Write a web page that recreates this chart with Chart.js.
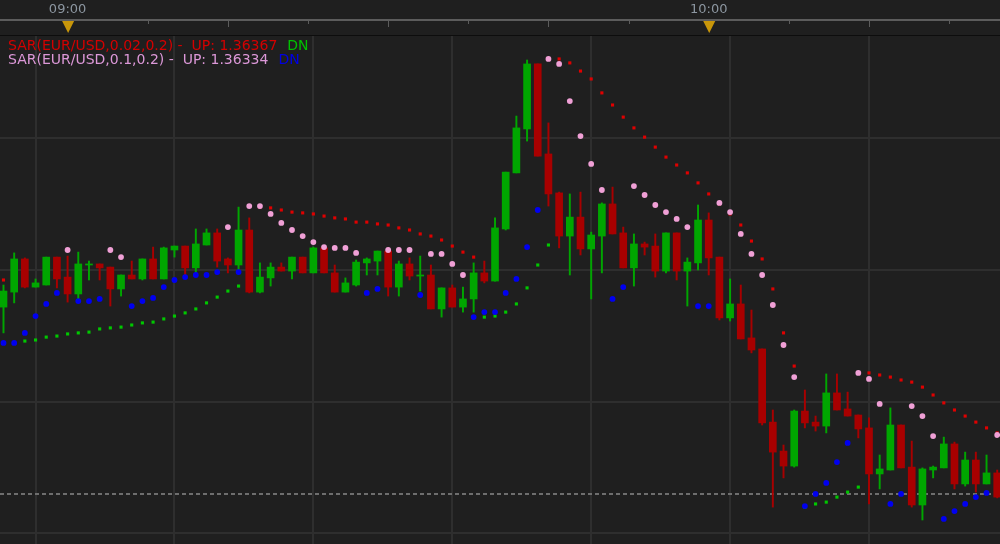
<!DOCTYPE html>
<html>
<head>
<meta charset="utf-8">
<script src="https://cdn.jsdelivr.net/npm/chart.js@4.4.0/dist/chart.umd.min.js"></script>
<style>
  html, body { margin: 0; padding: 0; background: #1f1f1f; }
  #wrap { position: relative; width: 1000px; height: 544px; }
  #legend {
    position: absolute; left: 8px; top: 38px;
    font-family: 'DejaVu Sans', sans-serif; font-size: 14px; line-height: 14px;
    white-space: nowrap; pointer-events: none;
  }
  #legend span { white-space: pre; }
  .up1 { color: #d40000; }
  .up2 { color: #dc98d8; }
  .dn1 { color: #00c000; margin-left: 10px; }
  .dn2 { color: #0000e6; margin-left: 10px; }
</style>
</head>
<body>
<div id="wrap">
  <canvas id="chart"></canvas>
  <div id="legend"><div><span class="up1">SAR(EUR/USD,0.02,0.2) -  UP: 1.36367</span><span class="dn1">DN</span></div><div><span class="up2">SAR(EUR/USD,0.1,0.2) -  UP: 1.36334</span><span class="dn2">DN</span></div></div>
</div>
<script>
// 1 minute EUR/USD candles
const times = [
  '08:54','08:55','08:56','08:57','08:58','08:59',
  '09:00','09:01','09:02','09:03','09:04','09:05','09:06','09:07','09:08','09:09',
  '09:10','09:11','09:12','09:13','09:14','09:15','09:16','09:17','09:18','09:19',
  '09:20','09:21','09:22','09:23','09:24','09:25','09:26','09:27','09:28','09:29',
  '09:30','09:31','09:32','09:33','09:34','09:35','09:36','09:37','09:38','09:39',
  '09:40','09:41','09:42','09:43','09:44','09:45','09:46','09:47','09:48','09:49',
  '09:50','09:51','09:52','09:53','09:54','09:55','09:56','09:57','09:58','09:59',
  '10:00','10:01','10:02','10:03','10:04','10:05','10:06','10:07','10:08','10:09',
  '10:10','10:11','10:12','10:13','10:14','10:15','10:16','10:17','10:18','10:19',
  '10:20','10:21','10:22','10:23','10:24','10:25','10:26','10:27'
];

const open = [
  1.364859,1.364916,1.365042,1.364935,1.364943,1.365049,
  1.364973,1.364909,1.365019,1.365023,1.365011,1.364928,1.364981,1.364966,1.365042,1.364966,
  1.365076,1.365091,1.365008,1.365095,1.365141,1.365042,1.365019,1.365152,1.364916,1.364970,
  1.365011,1.364996,1.365049,1.364989,1.365084,1.364989,1.364916,1.364943,1.365027,1.365034,
  1.365072,1.364935,1.365023,1.364977,1.364981,1.364852,1.364932,1.364859,1.364890,1.364989,
  1.364958,1.365156,1.365369,1.365536,1.365783,1.365441,1.365293,1.365129,1.365201,1.365080,
  1.365129,1.365251,1.365141,1.365008,1.365099,1.365091,1.364996,1.365141,1.364996,1.365027,
  1.365190,1.365049,1.364818,1.364871,1.364742,1.364700,1.364422,1.364312,1.364255,1.364464,
  1.364422,1.364407,1.364533,1.364472,1.364449,1.364400,1.364225,1.364240,1.364411,1.364251,
  1.364107,1.364240,1.364248,1.364339,1.364187,1.364278,1.364187,1.364229
];
const high = [
  1.364943,1.365065,1.365046,1.364966,1.365049,1.365049,
  1.365053,1.365068,1.365034,1.365023,1.365011,1.364981,1.365034,1.365042,1.365087,1.365087,
  1.365091,1.365091,1.365156,1.365156,1.365156,1.365046,1.365239,1.365198,1.365027,1.365027,
  1.365027,1.365049,1.365049,1.365087,1.365087,1.365019,1.364970,1.365038,1.365046,1.365072,
  1.365084,1.365034,1.365046,1.365053,1.365019,1.364932,1.364943,1.364935,1.365027,1.365034,
  1.365198,1.365372,1.365585,1.365798,1.365783,1.365559,1.365296,1.365289,1.365296,1.365144,
  1.365255,1.365315,1.365163,1.365137,1.365106,1.365137,1.365141,1.365141,1.365046,1.365247,
  1.365217,1.365049,1.364966,1.364943,1.364848,1.364700,1.364468,1.364335,1.364468,1.364544,
  1.364445,1.364605,1.364605,1.364536,1.364449,1.364438,1.364297,1.364476,1.364411,1.364350,
  1.364248,1.364255,1.364365,1.364346,1.364308,1.364308,1.364297,1.364240
];
const low = [
  1.364761,1.364875,1.364932,1.364935,1.364943,1.364932,
  1.364878,1.364890,1.364962,1.364962,1.364863,1.364901,1.364966,1.364962,1.364966,1.364966,
  1.365049,1.364981,1.364989,1.365095,1.365011,1.364989,1.365000,1.364913,1.364913,1.364939,
  1.364996,1.364966,1.364989,1.364989,1.364989,1.364916,1.364916,1.364939,1.364981,1.364981,
  1.364901,1.364901,1.364962,1.364920,1.364852,1.364821,1.364859,1.364840,1.364840,1.364951,
  1.364958,1.365152,1.365369,1.365490,1.365433,1.365243,1.365084,1.364981,1.365057,1.364890,
  1.364989,1.365137,1.365008,1.364939,1.365057,1.364973,1.364989,1.364962,1.364863,1.365000,
  1.364981,1.364810,1.364806,1.364738,1.364685,1.364411,1.364099,1.364210,1.364251,1.364400,
  1.364388,1.364381,1.364468,1.364445,1.364362,1.364111,1.364168,1.364240,1.364248,1.364099,
  1.364050,1.364210,1.364248,1.364168,1.364179,1.364156,1.364187,1.364134
];
const close = [
  1.364920,1.365042,1.364935,1.364951,1.365049,1.364966,
  1.364909,1.365023,1.365023,1.365008,1.364928,1.364981,1.364966,1.365042,1.364966,1.365084,
  1.365091,1.365008,1.365099,1.365141,1.365034,1.365019,1.365152,1.364916,1.364973,1.365011,
  1.364996,1.365049,1.364989,1.365084,1.364989,1.364916,1.364951,1.365030,1.365042,1.365072,
  1.364935,1.365023,1.364977,1.364981,1.364852,1.364932,1.364859,1.364890,1.364989,1.364958,
  1.365160,1.365372,1.365540,1.365783,1.365433,1.365289,1.365129,1.365201,1.365080,1.365133,
  1.365251,1.365137,1.365008,1.365099,1.365087,1.364996,1.365141,1.364996,1.365030,1.365190,
  1.365046,1.364818,1.364871,1.364738,1.364696,1.364419,1.364308,1.364255,1.364464,1.364419,
  1.364407,1.364533,1.364468,1.364445,1.364396,1.364225,1.364244,1.364411,1.364248,1.364107,
  1.364244,1.364251,1.364339,1.364187,1.364278,1.364187,1.364229,1.364137
];

// Parabolic SAR (EUR/USD, 0.02, 0.2)
const sarSlow = [
  1.364962,1.364723,1.364730,1.364734,1.364745,1.364749,
  1.364757,1.364761,1.364764,1.364776,1.364780,1.364783,1.364791,1.364799,1.364802,1.364814,
  1.364825,1.364837,1.364852,1.364875,1.364897,1.364920,1.364939,1.365243,1.365239,1.365236,
  1.365228,1.365220,1.365217,1.365213,1.365205,1.365198,1.365194,1.365182,1.365182,1.365175,
  1.365171,1.365160,1.365152,1.365137,1.365129,1.365114,1.365091,1.365068,1.365049,1.364821,
  1.364825,1.364840,1.364871,1.364932,1.365019,1.365095,1.365802,1.365787,1.365756,1.365726,
  1.365673,1.365627,1.365581,1.365540,1.365505,1.365467,1.365429,1.365399,1.365369,1.365331,
  1.365289,1.365251,1.365213,1.365171,1.365110,1.365042,1.364928,1.364761,1.364635,1.364099,
  1.364111,1.364118,1.364137,1.364156,1.364175,1.364609,1.364601,1.364593,1.364582,1.364574,
  1.364555,1.364525,1.364495,1.364468,1.364445,1.364422,1.364400,1.364381
];
// Parabolic SAR (EUR/USD, 0.1, 0.2)
const sarFast = [
  1.364723,1.364723,1.364761,1.364825,1.364871,1.364913,
  1.365076,1.364882,1.364882,1.364890,1.365076,1.365049,1.364863,1.364882,1.364894,1.364935,
  1.364962,1.364973,1.364981,1.364981,1.364992,1.365163,1.364992,1.365243,1.365243,1.365213,
  1.365179,1.365152,1.365129,1.365106,1.365087,1.365084,1.365084,1.365065,1.364913,1.364928,
  1.365076,1.365076,1.365076,1.364905,1.365061,1.365061,1.365023,1.364981,1.364821,1.364840,
  1.364840,1.364913,1.364966,1.365087,1.365228,1.365802,1.365783,1.365642,1.365509,1.365403,
  1.365304,1.364890,1.364935,1.365319,1.365285,1.365247,1.365220,1.365194,1.365163,1.364863,
  1.364863,1.365255,1.365220,1.365137,1.365061,1.364981,1.364867,1.364715,1.364593,1.364103,
  1.364149,1.364191,1.364270,1.364343,1.364609,1.364586,1.364491,1.364111,1.364149,1.364483,
  1.364445,1.364369,1.364054,1.364084,1.364111,1.364137,1.364153,1.364373
];

const lastPrice = 1.364149;

// axis setup (minutes from 09:00)
const hourMinutes = [0, 60];
const hourLabels = ['09:00', '10:00'];
const headerTicks = [7.5, 15, 22.5, 30, 37.5, 45, 52.5, 67.5, 75, 82.5];
const gridMinutes = [-3, 10, 23, 36, 49, 62, 75];
const priceGrid = [1.3640, 1.3645, 1.3650, 1.3655];
const xMin = -6.327, xMax = 87.26;
const yMin = 1.3639588, yMax = 1.3658892;

const GREEN = '#00a600';
const RED = '#a80000';

const toMinutes = t => {
    const [h, m] = t.split(':').map(Number);
    return h * 60 + m - 540;
};
const xs = times.map(toMinutes);
const candleColors = xs.map((x, i) => close[i] >= open[i] ? GREEN : RED);

const wickData = xs.map((x, i) => ({ x: x, y: [low[i], high[i]] }));
const bodyData = xs.map((x, i) => ({ x: x, y: [Math.min(open[i], close[i]), Math.max(open[i], close[i])] }));
const slowData = xs.map((x, i) => ({ x: x, y: sarSlow[i] }));
const fastData = xs.map((x, i) => ({ x: x, y: sarFast[i] }));

// header strip, price line
const chartDecor = {
    id: 'chartDecor',
    beforeDraw(chart) {
        const ctx = chart.ctx;
        ctx.save();
        ctx.fillStyle = '#1f1f1f';
        ctx.fillRect(0, 0, chart.width, chart.height);
        ctx.restore();
    },
    beforeDatasetsDraw(chart) {
        const { ctx, scales: { y }, chartArea } = chart;
        const py = Math.round(y.getPixelForValue(lastPrice));
        ctx.save();
        ctx.strokeStyle = '#6e6e6e';
        ctx.lineWidth = 2;
        ctx.setLineDash([4, 3]);
        ctx.beginPath();
        ctx.moveTo(chartArea.left, py);
        ctx.lineTo(chartArea.right, py);
        ctx.stroke();
        ctx.restore();
    },
    afterDraw(chart) {
        const { ctx, scales: { x } } = chart;
        ctx.save();
        ctx.fillStyle = '#5c5c5c';
        ctx.fillRect(0, 19, chart.width, 2);
        headerTicks.forEach(m => {
            const px = Math.round(x.getPixelForValue(m));
            const len = m % 15 === 0 ? 6 : 3;
            ctx.fillRect(px, 21, 1, len);
        });
        ctx.fillStyle = '#0d0d0d';
        ctx.fillRect(0, 35, chart.width, 1);
        ctx.fillStyle = '#c8960a';
        hourMinutes.forEach(m => {
            const px = x.getPixelForValue(m) + 0.5;
            ctx.beginPath();
            ctx.moveTo(px - 6, 21);
            ctx.lineTo(px + 6, 21);
            ctx.lineTo(px, 33);
            ctx.closePath();
            ctx.fill();
        });
        ctx.restore();
    }
};

const ctx = document.getElementById('chart').getContext('2d');
new Chart(ctx, {
    type: 'bar',
    data: {
        datasets: [
            {
                type: 'scatter',
                data: fastData,
                order: 0,
                pointStyle: 'circle',
                pointRadius: 2.9,
                pointBorderWidth: 0,
                pointBackgroundColor: c => sarFast[c.dataIndex] > close[c.dataIndex] ? '#f0a0d6' : '#0000f0'
            },
            {
                type: 'scatter',
                data: slowData,
                order: 1,
                pointStyle: 'rect',
                pointRadius: 2.2,
                pointBorderWidth: 0,
                pointBackgroundColor: c => sarSlow[c.dataIndex] > close[c.dataIndex] ? '#e00000' : '#00c800'
            },
            {
                data: bodyData,
                order: 2,
                grouped: false,
                barThickness: 7,
                minBarLength: 1,
                backgroundColor: candleColors,
                borderWidth: 0
            },
            {
                data: wickData,
                order: 3,
                grouped: false,
                barThickness: 1.3,
                backgroundColor: candleColors,
                borderWidth: 0
            }
        ]
    },
    options: {
        responsive: true,
        maintainAspectRatio: false,
        animation: false,
        events: [],
        layout: { padding: 0, autoPadding: false },
        plugins: {
            legend: { display: false },
            tooltip: { enabled: false }
        },
        scales: {
            x: {
                type: 'linear',
                position: 'bottom',
                min: xMin,
                max: xMax,
                offset: false,
                afterBuildTicks: s => { s.ticks = gridMinutes.map(v => ({ value: v })); },
                afterFit: s => { s.height = 0; },
                ticks: { display: false },
                grid: { color: '#2e2e2e', lineWidth: 2, drawTicks: false, offset: false },
                border: { display: false }
            },
            xTop: {
                type: 'linear',
                position: 'top',
                min: xMin,
                max: xMax,
                offset: false,
                afterBuildTicks: s => { s.ticks = hourMinutes.map(v => ({ value: v })); },
                afterFit: s => { s.height = 36; },
                ticks: {
                    color: '#8c96a0',
                    font: { family: 'DejaVu Sans', size: 13 },
                    padding: 19,
                    maxRotation: 0,
                    autoSkip: false,
                    callback: (v, i) => hourLabels[i]
                },
                grid: { display: false, drawTicks: false },
                border: { display: false }
            },
            y: {
                type: 'linear',
                position: 'right',
                min: yMin,
                max: yMax,
                afterBuildTicks: s => { s.ticks = priceGrid.map(v => ({ value: v })); },
                afterFit: s => { s.width = 0; },
                ticks: { display: false },
                grid: { color: '#2e2e2e', lineWidth: 2, drawTicks: false },
                border: { display: false }
            }
        }
    },
    plugins: [chartDecor]
});
</script>
</body>
</html>
